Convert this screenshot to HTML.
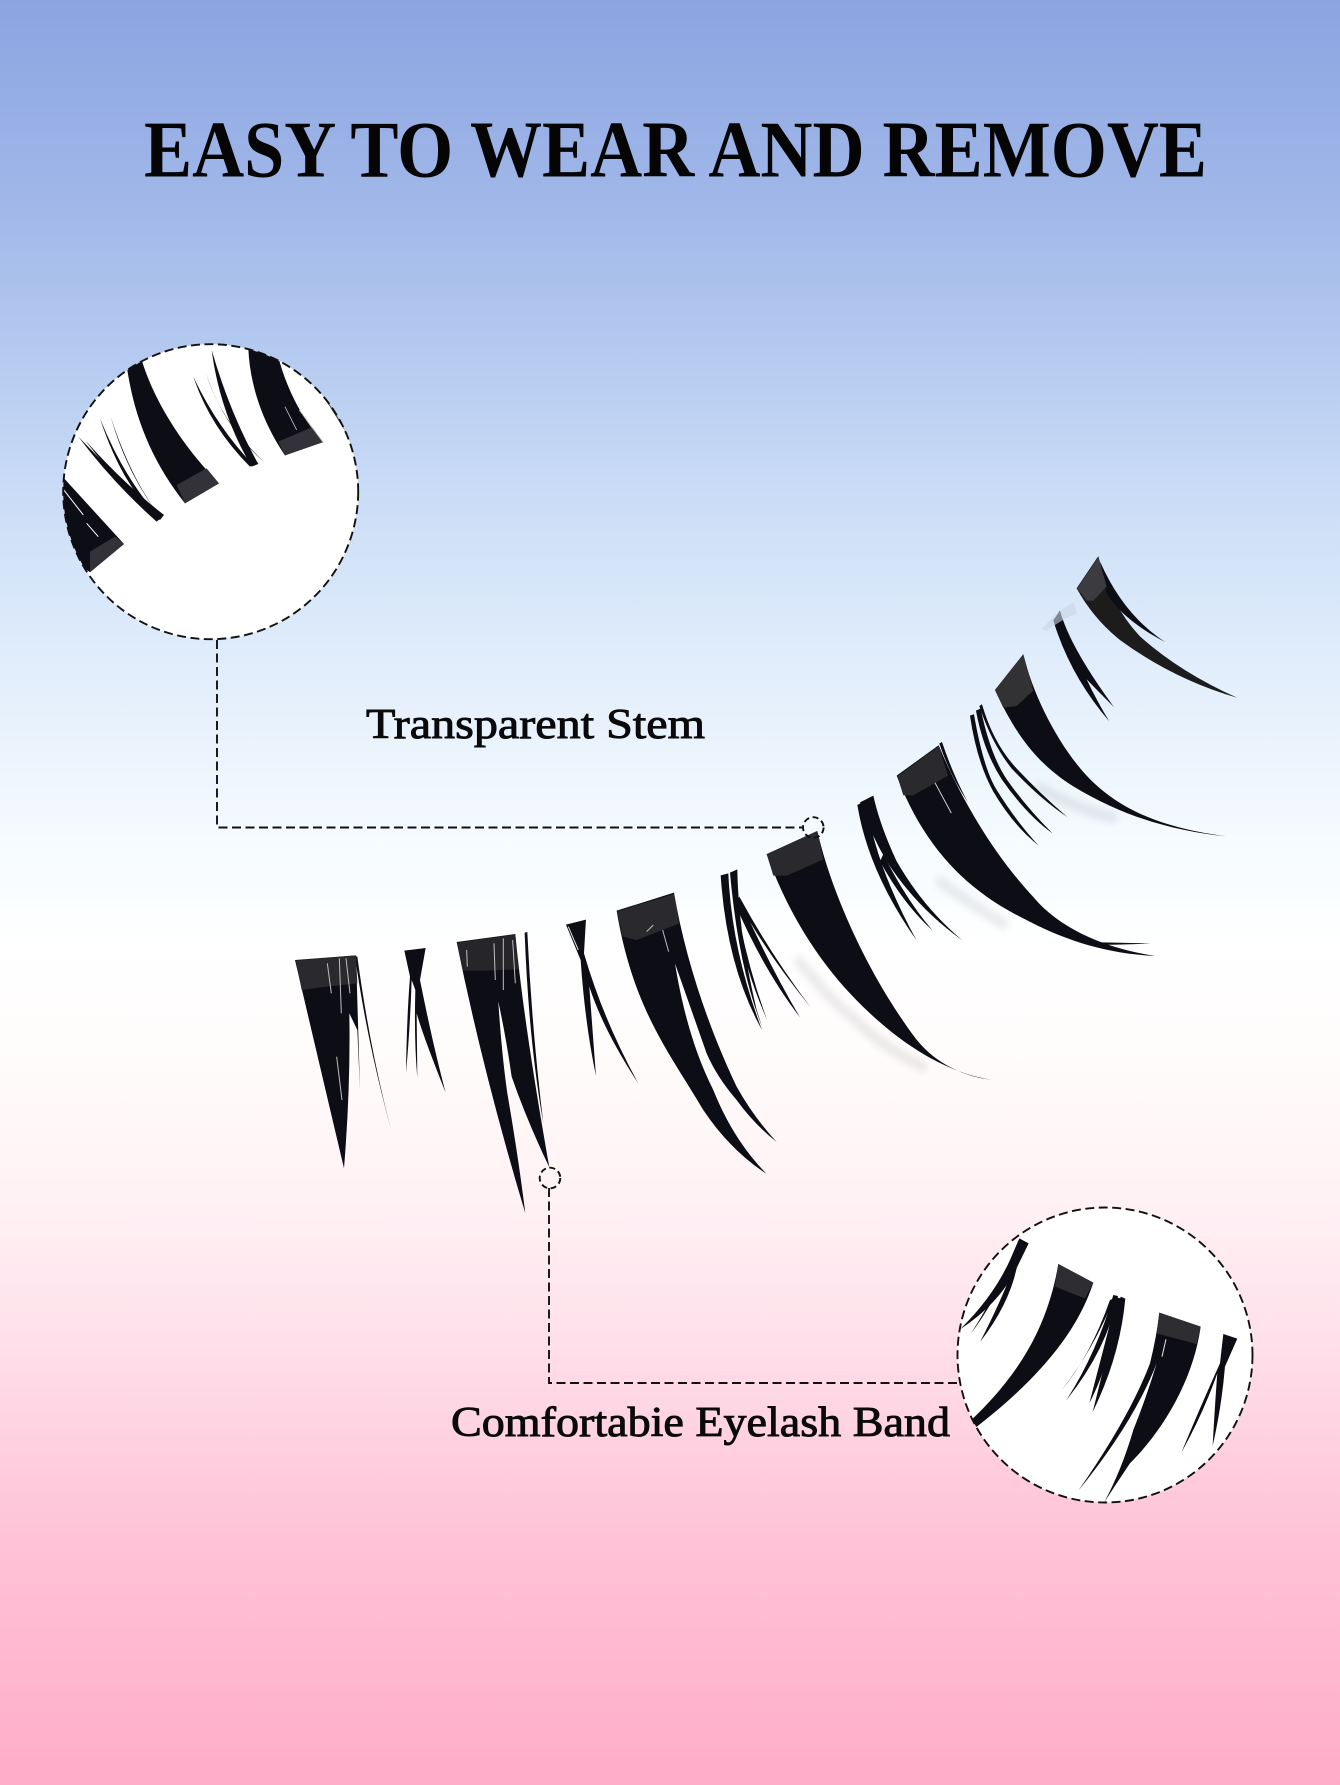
<!DOCTYPE html>
<html lang="en"><head><meta charset="utf-8"><title>Easy to wear and remove</title>
<style>html,body{margin:0;padding:0;background:#fff}svg{display:block}</style></head>
<body>
<svg xmlns="http://www.w3.org/2000/svg" width="1340" height="1785" viewBox="0 0 1340 1785">
<defs>
<linearGradient id="bg" x1="0" y1="0" x2="0" y2="1">
<stop offset="0" stop-color="#8ba5e2"/>
<stop offset=".12" stop-color="#a2b8e9"/>
<stop offset=".18" stop-color="#b0c6ee"/>
<stop offset=".30" stop-color="#d0e1f8"/>
<stop offset=".37" stop-color="#e1edfb"/>
<stop offset=".47" stop-color="#f5fbff"/>
<stop offset=".53" stop-color="#ffffff"/>
<stop offset=".60" stop-color="#fffbfb"/>
<stop offset=".68" stop-color="#fff0f4"/>
<stop offset=".75" stop-color="#ffe0ea"/>
<stop offset=".86" stop-color="#ffc3d7"/>
<stop offset="1" stop-color="#ffacc8"/>
</linearGradient>
<clipPath id="c1"><circle cx="210.7" cy="491.7" r="147.5"/></clipPath>
<clipPath id="c2"><circle cx="1105" cy="1355" r="147.5"/></clipPath>
<filter id="soft" x="-10%" y="-10%" width="120%" height="120%"><feGaussianBlur stdDeviation=".9"/></filter>
<filter id="sh" x="-30%" y="-30%" width="160%" height="160%"><feGaussianBlur stdDeviation="12"/></filter>
</defs>
<rect width="1340" height="1785" fill="url(#bg)"/>

<text x="144" y="176.5" font-family="'Liberation Serif',serif" font-weight="700" font-size="80" textLength="1063" lengthAdjust="spacingAndGlyphs" fill="#050506">EASY TO WEAR AND REMOVE</text>
<text x="366" y="738" font-family="'Liberation Serif',serif" font-size="42" textLength="339" lengthAdjust="spacingAndGlyphs" fill="#0a0a0a" stroke="#0a0a0a" stroke-width=".9">Transparent Stem</text>
<text x="451" y="1436" font-family="'Liberation Serif',serif" font-size="42" textLength="499" lengthAdjust="spacingAndGlyphs" fill="#0a0a0a" stroke="#0a0a0a" stroke-width=".9">Comfortabie Eyelash Band</text>

<!-- soft shadows close to the lashes -->
<g transform="translate(740,540) scale(.3333,.357)" fill="none" stroke="#000" stroke-width="26" opacity=".09" filter="url(#sh)">
<path d="M890 690 Q1000 750 1130 780"/>
<path d="M590 950 Q690 1020 800 1080"/>
<path d="M170 1170 Q250 1270 340 1340 Q440 1430 560 1480"/>
</g>

<!-- lashes, left half (zoom coordinates) -->
<g transform="translate(270,880) scale(.3333)" fill="#111113" filter="url(#soft)">
<!-- 1 -->
<path d="M75 240 L258 226 L270 630 L262 450 L238 400 Q242 620 222 865 Q150 560 75 240Z"/>
<path d="M255 228 Q290 480 364 752 Q300 510 262 230Z"/>
<path d="M78 242 L258 226 L262 310 L150 322 L95 330Z" fill="#2b2b2e"/>
<path d="M200 530 L216 660 M172 250 L184 340 M208 235 L214 400 M228 235 L240 340" stroke="#bdbdbd" stroke-width="3" fill="none"/>
<!-- 2 -->
<path d="M403 212 L467 204 L450 300 Q490 500 527 638 Q460 470 440 400 L442 594 Q432 480 436 330 L425 300 Q420 450 408 578 Q410 420 420 290Z"/>
<!-- 3 -->
<path d="M560 186 L736 162 Q760 420 838 862 Q770 720 725 590 Q708 470 685 365 Q695 520 712 640 Q745 830 766 1000 Q640 580 560 186Z"/>
<path d="M764 158 L772 156 Q785 440 820 730 Q776 480 764 158Z"/>
<path d="M562 188 L736 164 L745 268 L640 272 L578 272Z" fill="#28282b"/>
<path d="M672 190 L676 300 M700 175 L700 330 M728 180 L736 310 M590 210 L592 260" stroke="#bdbdbd" stroke-width="3" fill="none"/>
<!-- 4 -->
<path d="M888 134 L948 119 L942 220 Q1000 420 1106 612 Q1000 450 958 320 L978 588 Q945 430 932 240Z"/>
<path d="M895 140 L925 210" stroke="#ddd" stroke-width="3"/>
<!-- 5 -->
<path d="M1040 92 L1212 38 C1245 230 1310 430 1400 620 Q1450 710 1520 786 Q1450 730 1400 660 Q1340 590 1310 520 L1215 250 C1240 400 1275 520 1330 630 Q1390 780 1490 882 Q1380 810 1300 690 C1200 520 1090 390 1040 92Z"/>
<path d="M1042 94 L1212 42 L1228 130 L1100 180 L1058 170Z" fill="#2b2b2e"/>
<path d="M1178 150 L1196 215 M1130 155 L1150 135" stroke="#bdbdbd" stroke-width="3" fill="none"/>
</g>

<!-- lash 6 -->
<g transform="translate(700,850) scale(.3333)" fill="#111113" filter="url(#soft)">
<path d="M62 76 L85 70 Q95 300 186 540 Q80 350 62 76Z"/>
<path d="M90 68 L112 58 Q115 250 170 480 L186 530 Q115 350 90 68Z"/>
<path d="M100 130 L120 150 Q210 350 300 502 Q190 360 100 150Z"/>
<path d="M118 140 Q210 310 332 472 Q200 310 112 150Z"/>
<path d="M120 220 Q150 370 202 512 Q140 370 112 230Z"/>
</g>

<!-- lashes, right half -->
<g transform="translate(740,540) scale(.3333,.357)" fill="#111113" filter="url(#soft)">
<!-- 7 -->
<path d="M80 880 L232 815 C280 1010 400 1240 530 1400 C590 1470 680 1505 756 1512 C600 1490 450 1390 330 1270 C210 1150 130 1010 80 880Z"/>
<path d="M80 880 L232 815 L250 895 L140 940 L100 940Z" fill="#2b2b2e"/>
<!-- 8 -->
<path d="M352 742 L380 730 Q400 900 530 1122 Q385 930 352 742Z"/>
<path d="M360 735 L400 716 Q420 800 470 900 Q550 1030 668 1122 Q530 1030 440 900 Q390 820 360 735Z"/>
<path d="M430 880 Q500 1010 578 1094 Q490 1020 420 900Z"/>
<!-- 9 -->
<path d="M470 660 L596 575 C660 720 760 880 880 1000 C960 1090 1100 1145 1246 1165 C1100 1160 970 1120 850 1060 C700 990 560 880 470 660Z"/>
<path d="M472 662 L596 578 L624 660 L520 715 L490 715Z" fill="#2b2b2e"/>
<path d="M598 570 L606 566 Q640 660 684 735 Q630 660 598 570Z"/>
<path d="M1035 1126 Q1140 1128 1235 1130 Q1140 1134 1050 1134Z"/>
<path d="M585 680 L634 765" stroke="#ccc" stroke-width="3"/>
<!-- 10 -->
<path d="M690 492 L702 488 Q730 640 770 700 Q830 790 896 856 Q820 800 760 705 Q710 620 690 492Z"/>
<path d="M708 478 L722 472 Q750 600 800 670 Q860 750 938 822 Q860 770 785 670 Q730 590 708 478Z"/>
<path d="M718 465 L726 460 Q760 570 830 640 Q900 710 982 776 Q900 725 815 640 Q755 570 718 465Z"/>
<!-- 11 -->
<path d="M765 420 L850 320 C880 440 960 580 1040 660 C1150 770 1300 810 1458 830 C1300 815 1150 775 1000 690 C880 620 820 530 765 420Z"/>
<path d="M765 420 L850 320 L880 422 L830 465 L790 470Z" fill="#303034"/>
<!-- 12 -->
<path d="M940 225 L960 198 Q990 300 1122 468 Q1060 410 1040 390 Q1070 450 1108 508 Q990 380 940 225Z"/>
<!-- 13 -->
<path d="M1010 135 L1075 45 Q1110 180 1200 270 Q1320 370 1492 442 Q1300 390 1140 280 Q1060 220 1010 135Z" fill="#1a1a1d"/>
<path d="M1080 60 Q1150 210 1276 286 Q1150 225 1100 150Z"/>
<path d="M1012 135 L1075 48 L1100 130 L1060 170 L1040 170Z" fill="#3a3a3f"/>
<path d="M905 250 Q950 200 1000 175 L1012 205 Q960 225 920 255Z" fill="#c9d6e6" opacity=".6"/>
</g>

<!-- magnifier 1 -->
<circle cx="210.7" cy="491.7" r="147.5" fill="#fff"/>
<g clip-path="url(#c1)"><g transform="translate(40,320) scale(.3333)" fill="#111113" filter="url(#soft)">
<path d="M60 462 L252 672 L150 757 L70 700 L50 600Z"/>
<path d="M70 508 L130 585 M140 610 L175 650" stroke="#fff" stroke-width="3" fill="none"/>
<path d="M150 757 L252 672 L225 650 L150 695Z" fill="#333337"/>
<path d="M262 150 L305 120 C345 250 430 380 537 490 L435 550 C340 430 285 300 262 150Z"/>
<path d="M435 550 L537 490 L500 445 L410 495Z" fill="#333337"/>
<path d="M115 350 Q220 490 350 605 L362 595 Q240 480 115 350Z"/>
<path d="M135 360 Q250 490 372 585 L360 600 Q240 500 135 360Z"/>
<path d="M180 295 Q240 480 345 590 L352 585 Q250 470 180 295Z"/>
<path d="M212 290 Q260 460 360 590 Q270 470 212 290Z"/>
<path d="M515 90 Q540 280 635 440 L655 432 Q570 280 515 90Z"/>
<path d="M460 170 Q510 320 630 440 L640 435 Q530 320 460 170Z"/>
<path d="M498 160 Q540 300 674 428 Q550 320 498 160Z"/>
<path d="M625 85 L715 112 C745 220 790 300 850 366 L735 406 C670 310 630 200 625 85Z"/>
<path d="M735 406 L850 366 L815 322 L715 365Z" fill="#333337"/>
<path d="M735 260 L770 330 M778 270 L850 368" stroke="#bdbdbd" stroke-width="2.5" fill="none"/>
<path d="M850 225 L925 345" stroke="#555" stroke-width="4" fill="none"/>
</g></g>

<!-- magnifier 2 -->
<circle cx="1105" cy="1355" r="147.5" fill="#fff"/>
<g clip-path="url(#c2)"><g transform="translate(930,1190) scale(.3333)" fill="#111113" filter="url(#soft)">
<path d="M268 145 L296 160 L262 230 Q210 340 90 418 Q190 320 240 210Z"/>
<path d="M262 225 Q240 340 150 456 Q210 340 248 240Z"/>
<path d="M235 240 Q190 340 122 432 Q180 340 226 250Z"/>
<path d="M385 222 L490 278 C450 400 360 540 138 712 L124 690 C250 570 350 430 385 222Z"/>
<path d="M385 222 L490 278 L465 325 L375 290Z" fill="#2f2f33"/>
<path d="M550 315 L564 318 Q530 480 408 632 Q500 490 550 315Z"/>
<path d="M540 330 Q480 500 395 600 Q490 480 552 325Z"/>
<path d="M572 320 L586 326 Q570 500 488 666 Q530 500 572 320Z"/>
<path d="M560 322 L572 325 Q545 510 478 640 Q520 480 560 322Z"/>
<path d="M688 368 L812 410 C790 570 700 720 600 820 Q560 880 522 938 Q575 840 610 720 Q650 620 680 520 Q610 700 445 902 Q600 680 660 520 Q680 440 688 368Z"/>
<path d="M688 368 L812 410 L800 462 L680 430Z" fill="#2f2f33"/>
<path d="M708 448 L696 500" stroke="#e8e8e8" stroke-width="3"/>
<path d="M880 432 L922 446 L885 530 Q875 650 848 768 Q855 640 862 550 Q820 670 754 788 Q820 630 870 520Z"/>
</g></g>

<!-- dashed circles and connectors -->
<g fill="none" stroke="#111" stroke-width="1.9">
<circle cx="210.7" cy="491.7" r="147.5" stroke-dasharray="9 4.5"/>
<circle cx="1105" cy="1355" r="147.5" stroke-dasharray="9 4.5"/>
<path d="M217 640 V827.5 H803" stroke-dasharray="9 4.5"/>
<path d="M549 1188 V1383 H957" stroke-dasharray="9 4.5"/>
<circle cx="813.3" cy="827.5" r="10.3" stroke-dasharray="6 3.5"/>
<circle cx="550" cy="1178" r="10.3" stroke-dasharray="6 3.5"/>
</g>
</svg>
</body></html>
